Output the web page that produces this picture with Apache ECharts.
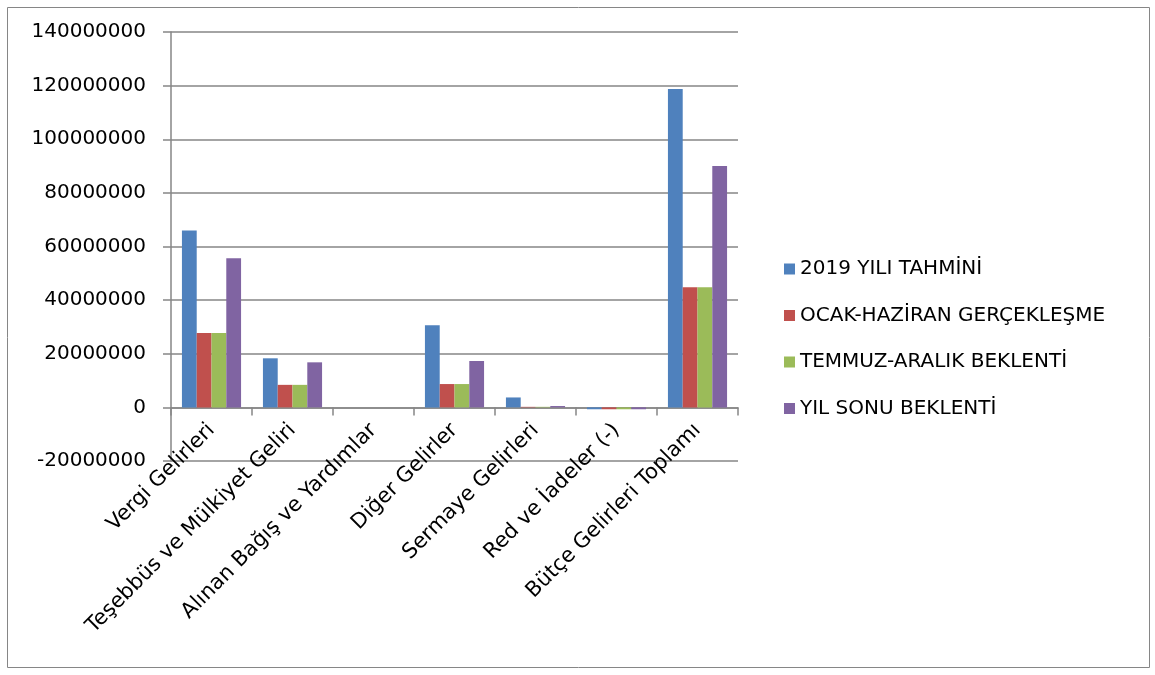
<!DOCTYPE html>
<html>
<head>
<meta charset="utf-8">
<script src="https://cdn.jsdelivr.net/npm/echarts@6/dist/echarts.min.js"></script>
<style>html,body{margin:0;padding:0;background:#fff}#c{width:1155px;height:675px}</style>
</head>
<body>
<div id="c"></div>
<script>
const categories = ["Vergi Gelirleri", "Teşebbüs ve Mülkiyet Geliri", "Alınan Bağış ve Yardımlar", "Diğer Gelirler", "Sermaye Gelirleri", "Red ve İadeler (-)", "Bütçe Gelirleri Toplamı"];
const seriesNames = ["2019 YILI TAHMİNİ", "OCAK-HAZİRAN GERÇEKLEŞME", "TEMMUZ-ARALIK BEKLENTİ", "YIL SONU BEKLENTİ"];
const tahmin2019 = [66000000, 18300000, 0, 30600000, 3700000, -700000, 118700000];
const ocakHaziran = [27700000, 8400000, 0, 8700000, 200000, -700000, 44800000];
const temmuzAralik = [27700000, 8400000, 0, 8700000, 200000, -700000, 44800000];
const yilSonu = [55600000, 16800000, 0, 17300000, 500000, -700000, 90000000];
const yTicks = [-20000000, 0, 20000000, 40000000, 60000000, 80000000, 100000000, 120000000, 140000000];

const colors = ["#4F81BD", "#C0504D", "#9BBB59", "#8064A2"];
const font = "DejaVu Sans";
const allData = [tahmin2019, ocakHaziran, temmuzAralik, yilSonu];

const chart = echarts.init(document.getElementById('c'));
chart.setOption({
  animation: false,
  textStyle: { fontFamily: font },
  graphic: [{
    type: 'rect', shape: { x: 7.5, y: 7.5, width: 1142, height: 660 },
    style: { fill: 'none', stroke: '#868686', lineWidth: 1 }, silent: true
  }],
  grid: { left: 171, top: 32, right: 417, bottom: 214 },
  legend: {
    orient: 'vertical', left: 779, top: 254, itemGap: 26.5,
    itemWidth: 11, itemHeight: 11, icon: 'rect',
    textStyle: { fontFamily: font, fontSize: 20, color: '#000' },
    data: seriesNames
  },
  xAxis: {
    type: 'category', data: categories,
    axisLine: { onZero: true, lineStyle: { color: '#868686', width: 1.5 } },
    axisTick: { show: true, length: 8, lineStyle: { color: '#868686', width: 1.5 } },
    axisLabel: { rotate: 45, fontFamily: font, fontSize: 21, color: '#000', margin: -34, interval: 0 }
  },
  yAxis: {
    type: 'value', min: yTicks[0], max: yTicks[yTicks.length - 1], interval: 20000000,
    axisLine: { show: true, lineStyle: { color: '#868686', width: 1.5 } },
    axisTick: { show: true, length: 8, lineStyle: { color: '#868686', width: 1.5 } },
    splitLine: { lineStyle: { color: '#868686', width: 1.5 } },
    axisLabel: { fontFamily: font, fontSize: 20, color: '#000', margin: 25, formatter: v => String(v) }
  },
  series: seriesNames.map((n, i) => ({
    name: n, type: 'bar', data: allData[i],
    itemStyle: { color: colors[i] },
    barGap: '0%', barCategoryGap: '27%'
  }))
});
</script>
</body>
</html>
